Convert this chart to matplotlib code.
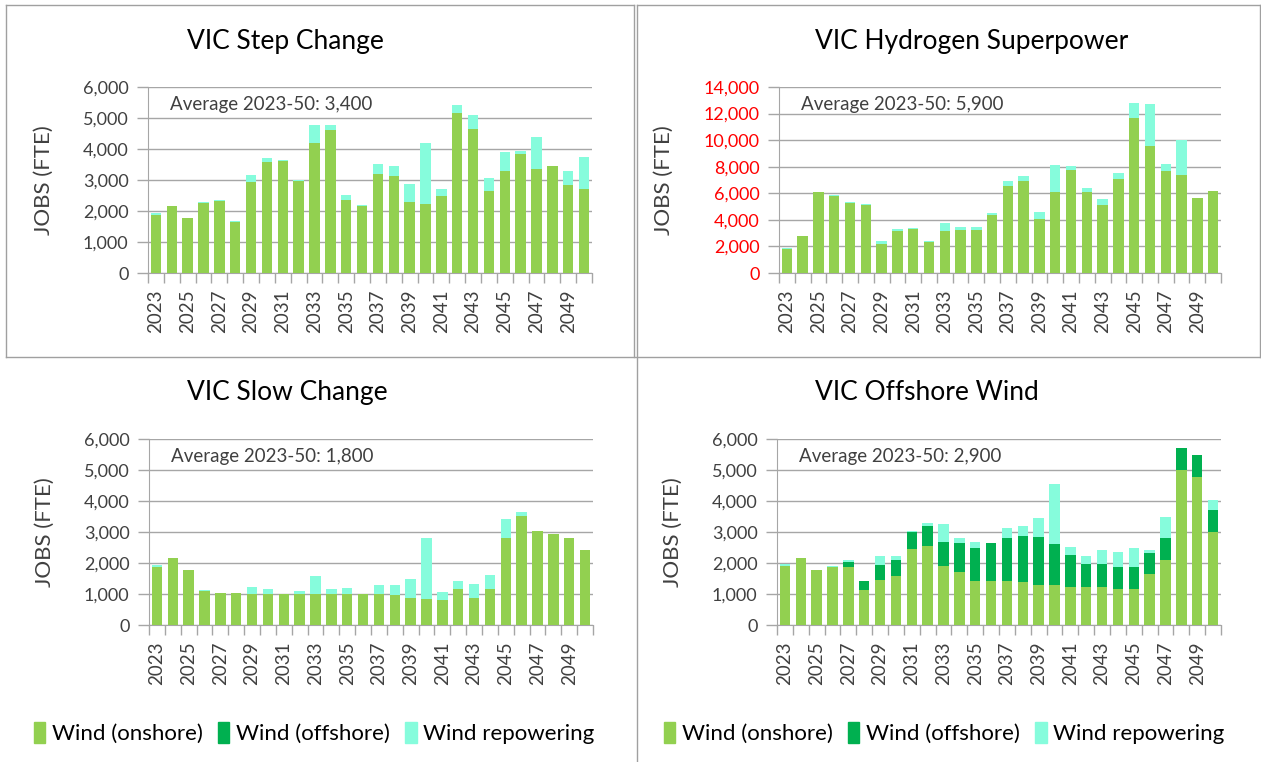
import numpy as np
import matplotlib
matplotlib.use('Agg')
import matplotlib.pyplot as plt
from matplotlib.patches import Patch
from matplotlib.lines import Line2D

years = list(range(2023, 2051))

# VIC Step Change
step_onshore = [1870, 2150, 1790, 2270, 2330, 1660, 2940, 3570, 3610, 2960, 4200, 4610, 2360, 2150,
                3200, 3120, 2300, 2240, 2480, 5150, 4640, 2640, 3280, 3850, 3360, 3450, 2850, 2700]
step_repower = [70, 0, 0, 30, 30, 30, 230, 140, 30, 50, 590, 180, 170, 30,
                310, 330, 570, 1960, 240, 260, 450, 430, 620, 90, 1020, 10, 450, 1040]

# VIC Hydrogen Superpower
h2_onshore = [1830, 2750, 6100, 5830, 5250, 5130, 2150, 3180, 3330, 2300, 3180, 3250, 3250, 4400,
              6550, 6950, 4050, 6100, 7750, 6100, 5130, 7050, 11650, 9580, 7700, 7380, 5680, 6180]
h2_repower = [70, 50, 0, 70, 80, 70, 250, 150, 70, 100, 570, 230, 230, 80,
              350, 350, 550, 2000, 280, 300, 420, 480, 1150, 3120, 480, 2620, 0, 0]

# VIC Slow Change
slow_onshore = [1870, 2150, 1780, 1090, 1020, 1020, 1010, 1010, 1010, 1010, 1010, 1010, 1010, 1010,
                1010, 980, 880, 840, 820, 1150, 880, 1150, 2810, 3530, 3020, 2930, 2810, 2410]
slow_repower = [60, 0, 0, 30, 0, 0, 220, 140, 0, 80, 560, 140, 190, 0,
                280, 310, 600, 1970, 230, 260, 450, 450, 600, 100, 0, 0, 0, 0]

# VIC Offshore Wind
off_onshore = [1900, 2150, 1780, 1870, 1870, 1130, 1450, 1570, 2450, 2560, 1900, 1720, 1410, 1410,
               1410, 1380, 1300, 1300, 1230, 1230, 1230, 1170, 1150, 1640, 2090, 4990, 4780, 2990]
off_offshore = [0, 0, 0, 0, 150, 300, 490, 520, 540, 640, 790, 910, 1070, 1220,
                1400, 1490, 1540, 1300, 1040, 740, 740, 700, 720, 690, 720, 730, 700, 720]
off_repower = [70, 0, 0, 30, 70, 0, 270, 150, 30, 100, 570, 180, 210, 0,
               330, 330, 610, 1940, 260, 260, 440, 480, 610, 80, 670, 0, 0, 310]

c_on = '#92D050'
c_off = '#00B050'
c_rep = '#86FCDC'
grid_c = '#A6A6A6'
txt_c = '#404040'

W, H = 1261, 762
fig = plt.figure(figsize=(W / 100, H / 100), dpi=100)
plt.rcParams['font.family'] = ['Lato', 'DejaVu Sans']


def px_axes(l, r, t, b):
    return fig.add_axes([l / W, 1 - b / H, (r - l) / W, (b - t) / H])


def panel(box, title, tx, ty, avg, onshore, offshore, repower, ymax, ystep, tick_color):
    ax = px_axes(*box)
    x = np.arange(len(years))
    on = np.array(onshore)
    off = np.array(offshore)
    rep = np.array(repower)
    ax.bar(x, on, width=0.66, color=c_on, zorder=3)
    ax.bar(x, off, width=0.66, bottom=on, color=c_off, zorder=3)
    ax.bar(x, rep, width=0.66, bottom=on + off, color=c_rep, zorder=3)
    ax.set_xlim(-0.5, len(years) - 0.5)
    ax.set_ylim(0, ymax)
    yt = np.arange(0, ymax + 1, ystep)
    ax.set_yticks(yt)
    ax.set_yticklabels([f'{v:,}' for v in yt], color=tick_color, fontsize=13)
    ax.yaxis.grid(True, color=grid_c, linewidth=1, zorder=0)
    ax.tick_params(axis='y', length=8, color=grid_c, width=1, pad=6)
    ax.set_xticks(np.arange(-0.5, len(years), 1), minor=True)
    ax.set_xticks(x[::2])
    ax.set_xticklabels([str(y) for y in years[::2]], rotation=90, fontsize=13.5, color=txt_c)
    ax.tick_params(axis='x', which='major', length=0, pad=12)
    ax.tick_params(axis='x', which='minor', length=7, color=grid_c, width=1)
    for s in ['top', 'right']:
        ax.spines[s].set_visible(False)
    for s in ['left', 'bottom']:
        ax.spines[s].set_color(grid_c)
    ax.set_ylabel('JOBS (FTE)', fontsize=16, color=txt_c, labelpad=21)
    ax.text(0.05, 0.905, avg, transform=ax.transAxes, fontsize=13.5, color=txt_c,
            va='center', ha='left', zorder=5)
    fig.text(tx / W, 1 - ty / H, title, fontsize=19, color='black', ha='left', va='center')
    return ax


zeros = [0] * len(years)
panel((148, 592, 87, 273), 'VIC Step Change', 187, 41, 'Average 2023-50: 3,400',
      step_onshore, zeros, step_repower, 6000, 1000, txt_c)
panel((779, 1221, 87, 273), 'VIC Hydrogen Superpower', 815, 41, 'Average 2023-50: 5,900',
      h2_onshore, zeros, h2_repower, 14000, 2000, '#FF0000')
panel((149, 593, 439, 625), 'VIC Slow Change', 187, 392, 'Average 2023-50: 1,800',
      slow_onshore, zeros, slow_repower, 6000, 1000, txt_c)
panel((777, 1221, 439, 625), 'VIC Offshore Wind', 815, 392, 'Average 2023-50: 2,900',
      off_onshore, off_offshore, off_repower, 6000, 1000, txt_c)

# panel borders
border_c = '#A0A0A0'
segs = [((6, 6), (5, 357)), ((6, 634), (5, 5)), ((634, 634), (5, 357)), ((6, 1260), (357, 357)),
        ((637, 637), (5, 762)), ((637, 1260), (5, 5)), ((1260, 1260), (5, 357))]
for xs, ys in segs:
    fig.add_artist(Line2D([v / W for v in xs], [1 - v / H for v in ys], color=border_c, lw=1))

handles = [Patch(color=c_on, label='Wind (onshore)'),
           Patch(color=c_off, label='Wind (offshore)'),
           Patch(color=c_rep, label='Wind repowering')]
for lx in (14, 644):
    fig.legend(handles=handles, loc='center left', bbox_to_anchor=(lx / W, 1 - 733 / H),
               ncol=3, frameon=False, handlelength=0.5, handleheight=1.1, handletextpad=0.3,
               columnspacing=0.7, prop={'size': 16})

fig.savefig('out.png', dpi=100)
